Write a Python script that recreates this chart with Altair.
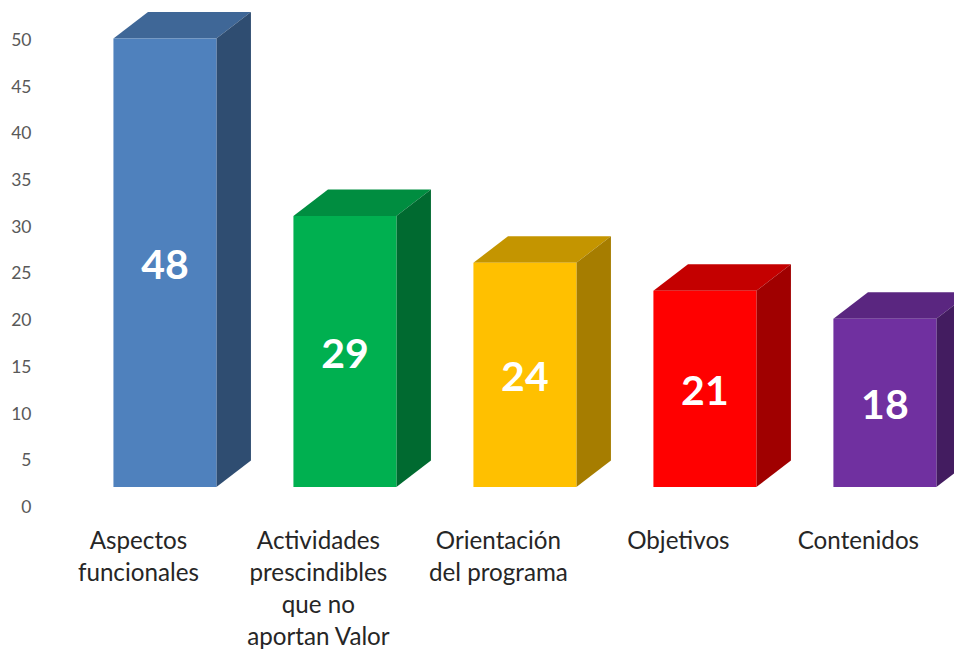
import altair as alt
import pandas as pd

categories = ["Aspectos funcionales", "Actividades prescindibles que no aportan Valor",
              "Orientación del programa", "Objetivos", "Contenidos"]
label_lines = [["Aspectos", "funcionales"],
               ["Actividades", "prescindibles", "que no", "aportan Valor"],
               ["Orientación", "del programa"],
               ["Objetivos"],
               ["Contenidos"]]
values = [48, 29, 24, 21, 18]
front_colors = ["#4F81BD", "#00B050", "#FFC000", "#FF0000", "#7030A0"]
top_colors = ["#3F6797", "#008D40", "#C49500", "#C40000", "#5A2680"]
side_colors = ["#2F4D71", "#006A30", "#A67D00", "#A00000", "#431C60"]

BASE = 2.03       # floor of the 3D bars on the value axis
HALF = 0.286      # half bar width, in category units
DX = 0.192        # depth in category units
DY = 2.85         # depth in value units
LABEL_SHIFT = 0.15

fronts, faces = [], []
for i, (cat, v) in enumerate(zip(categories, values)):
    top = v + BASE
    x0, x1 = i - HALF, i + HALF
    fronts.append(dict(idx=i, x0=x0, x1=x1, y0=BASE, top=top, mid=(BASE + top) / 2,
                       label=str(v), color=front_colors[i]))
    for x, a, b in [(x0, top, top), (x0 + DX, top + DY, top),
                    (x1, top + DY, top), (x1 + DX, top + DY, top + DY)]:
        faces.append(dict(face=f"top{i}", x=x, y=a, y2=b))
    for x, a, b in [(x1, top, BASE), (x1 + DX, top + DY, BASE + DY)]:
        faces.append(dict(face=f"side{i}", x=x, y=a, y2=b))

front_df = pd.DataFrame(fronts)
face_df = pd.DataFrame(faces)

xs = alt.Scale(domain=[-0.694, 4.384], nice=False, zero=False)
ys = alt.Scale(domain=[0, 53.3], nice=False, zero=False)

expr_labels = ("[" + ",".join("[" + ",".join(f"'{l}'" for l in ls) + "]" for ls in label_lines)
               + f"][round(datum.value+{LABEL_SHIFT})]")

face_names = [f"top{i}" for i in range(5)] + [f"side{i}" for i in range(5)]
face_colors = top_colors + side_colors

faces_layer = alt.Chart(face_df).mark_area(clip=True, interpolate="linear").encode(
    x=alt.X("x:Q", scale=xs, title=None,
            axis=alt.Axis(values=[i - LABEL_SHIFT for i in range(5)], labelExpr=expr_labels,
                          domain=False, ticks=False,
                          grid=False, labelFont="Lato", labelFontSize=24.2, labelColor="#262626",
                          labelPadding=23, labelLineHeight=32, labelBaseline="top",
                          labelAlign="center", labelOverlap=False, labelFlush=False, labelBound=False)),
    y=alt.Y("y:Q", scale=ys, title=None,
            axis=alt.Axis(values=list(range(0, 55, 5)), domain=False, ticks=False, grid=False,
                          labelFont="Lato", labelFontSize=17.5, labelColor="#595959", labelPadding=9,
                          labelOffset=1.5)),
    y2="y2:Q",
    color=alt.Color("face:N", scale=alt.Scale(domain=face_names, range=face_colors), legend=None),
)

front_layer = alt.Chart(front_df).mark_rect().encode(
    x=alt.X("x0:Q", scale=xs), x2="x1:Q",
    y=alt.Y("y0:Q", scale=ys), y2="top:Q",
    fill=alt.Fill("color:N", scale=None),
)

text_layer = alt.Chart(front_df).mark_text(font="Lato", fontWeight="bold", fontSize=41, dy=4,
                                           color="white", baseline="middle").encode(
    x=alt.X("idx:Q", scale=xs), y=alt.Y("mid:Q", scale=ys), text="label:N",
)

chart = (faces_layer + front_layer + text_layer).properties(
    width=914, height=498, autosize="none",
    padding={"left": 32, "top": 0, "right": 0, "bottom": 144},
    background="white",
).configure_view(stroke=None)

chart.save("out.html", embed_options={"renderer": "svg", "actions": False})
